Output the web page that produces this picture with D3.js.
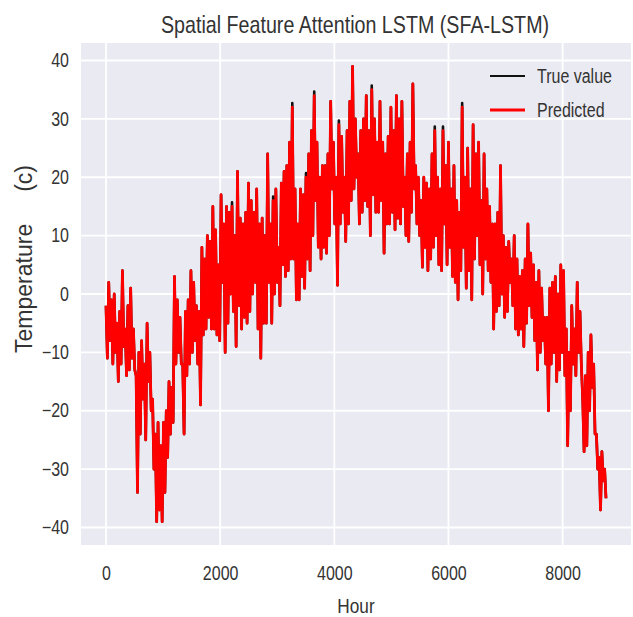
<!DOCTYPE html>
<html lang="en">
    <head>
        <meta charset="utf-8">
        <title>SFA-LSTM</title>
        <script type="text/javascript" src="https://cdn.jsdelivr.net/npm/d3@7"></script>
        <style>
            body { margin: 0; background: #fff; }
        </style>
    </head>
    <body>
        <script type="text/javascript">
        // temperature swings: for every 48-hour block,
        // the high (at the start of the block) and the low (24 h later)
        var step = 48;
        var highs = [
            -2, 2, -1, 0, -5, -3, 4, -6, -2, 1,
            -6, -14, -10, -8, -12, -5, -10, -18, -24, -22,
            -26, -22, -20, -15, -16, 3, -1, -4, -12, -3,
            -1, 4, 2, -2, -3, 8, 6, 10, 9, 15,
            11, 5, 17, 12, 15, 14, 15, 10, 21, 13,
            12, 14, 19, 16, 14, 18, 12, 13, 10, 24,
            12, 16, 18, 8, 19, 21, 22, 26, 32, 18,
            12, 18, 17, 20, 24, 28, 34, 26, 20, 22,
            22, 24, 33, 26, 20, 29, 27, 20, 28, 33,
            39, 30, 24, 28, 30, 34, 28, 35, 30, 26,
            33, 26, 24, 27, 32, 28, 34, 30, 33, 20,
            24, 26, 36, 22, 20, 16, 20, 19, 18, 24,
            28, 20, 18, 28, 22, 26, 18, 22, 16, 14,
            32, 20, 25, 18, 29, 24, 26, 16, 24, 18,
            15, 12, 12, 14, 22, 10, 8, 9, 6, 10,
            6, 3, 4, 6, 12, 7, 5, 2, 4, 1,
            -4, -4, 1, 2, 3, 0, 5, 4, -6, -10,
            -2, -6, 2, -3, -18, -14, -10, -7, -12, -24,
            -28, -27, -30
        ];
        var lows = [
            -11, -8, -12, -10, -15, -12, -9, -14, -13, -11,
            -13, -34, -24, -18, -25, -15, -20, -30, -39, -37,
            -39, -34, -28, -24, -22, -12, -10, -12, -24, -14,
            -12, -10, -8, -12, -19, -7, -6, -4, -6, -6,
            -7, -8, 2, -10, -5, 0, -3, -9, -2, -6,
            -4, -5, -3, 0, 2, -6, -11, -5, -5, 2,
            -5, 0, 2, -2, 5, 3, 4, 6, 6, -1,
            -1, 3, 1, 6, 4, 10, 16, 8, 6, 8,
            7, 10, 18, 12, 1.5, 12, 14, 9, 12, 16,
            18, 20, 12, 14, 16, 15, 10, 17, 14, 14,
            16, 7, 12, 12, 14, 11, 13, 12, 15, 10,
            9, 14, 18, 12, 10, 4.6, 8, 4, 6, 8,
            10, 5, 4, 12, 5, 8, 3, 2, -1, 4,
            8, 1, 4, -1, 6, 10, 5, 0, 6, 4,
            2, -6, -3, -2, 0, -4, -3, 2, -2, -6,
            -7, -6, -9, -5, -2, -4, -8, -13, -10, -8,
            -12, -20, -12, -10, -15, -13, -10, -14, -26, -20,
            -12, -14, -10, -12, -27, -26, -20, -16, -24, -30,
            -37, -32, -35
        ];
        // highs where the true value pokes out above the prediction: [block, value]
        var truePeaks = [[46, 15.7], [61, 16.7], [68, 32.7], [73, 20.7], [76, 34.7],
                         [85, 29.7], [97, 35.7], [120, 28.7], [123, 28.7], [130, 32.7]];
        var yTicks = [-40, -30, -20, -10, 0, 10, 20, 30, 40];
        var xTicks = [0, 2000, 4000, 6000, 8000];

        var peakMap = new Map(truePeaks);
        var predicted = [], trueValue = [];
        highs.forEach(function(hi, i) {
            predicted.push({hour: i * step, temp: hi});
            predicted.push({hour: i * step + step / 2, temp: lows[i]});
            trueValue.push({hour: i * step, temp: peakMap.has(i) ? peakMap.get(i) : hi});
            trueValue.push({hour: i * step + step / 2, temp: lows[i]});
        });

        var w = 633, h = 617;
        var padL = 81, padR = 631, padT = 43, padB = 545;
        var font = "'Liberation Sans', Arial, sans-serif";
        var squeeze = 0.82;   // the original uses a condensed face
        var ink = "#333";

        var lastHour = d3.max(predicted, function(d) { return d.hour; });
        var xScale = d3.scaleLinear()
                    .domain([-0.05 * lastHour, lastHour * 1.05])
                    .range([padL, padR]);
        var yScale = d3.scaleLinear()
                    .domain([-43, 43])
                    .range([padB, padT]);

        var svg = d3.select("body")
                    .append("svg")
                    .attr("width", w)
                    .attr("height", h);

        svg.append("rect")
            .attr("x", padL)
            .attr("y", padT)
            .attr("width", padR - padL)
            .attr("height", padB - padT)
            .attr("fill", "#EAEAF2");

        var grid = svg.append("g").attr("stroke", "#fff").attr("stroke-width", 1.8);
        grid.selectAll(".gx")
            .data(xTicks)
            .enter()
            .append("line")
            .attr("x1", function(d) { return xScale(d); })
            .attr("x2", function(d) { return xScale(d); })
            .attr("y1", padT)
            .attr("y2", padB);
        grid.selectAll(".gy")
            .data(yTicks)
            .enter()
            .append("line")
            .attr("y1", function(d) { return yScale(d); })
            .attr("y2", function(d) { return yScale(d); })
            .attr("x1", padL)
            .attr("x2", padR);

        var line = d3.line()
                    .x(function(d) { return xScale(d.hour); })
                    .y(function(d) { return yScale(d.temp); });

        svg.append("path")
            .datum(trueValue)
            .attr("d", line)
            .attr("fill", "none")
            .attr("stroke", "#111")
            .attr("stroke-width", 2.6)
            .attr("stroke-linejoin", "round");

        svg.append("path")
            .datum(predicted)
            .attr("d", line)
            .attr("fill", "none")
            .attr("stroke", "#ff0000")
            .attr("stroke-width", 2.8)
            .attr("stroke-linejoin", "round");

        // axes: seaborn look, no tick marks, no domain line
        var xAxis = svg.append("g")
                    .attr("transform", "translate(0," + padB + ")")
                    .call(d3.axisBottom(xScale).tickValues(xTicks).tickSize(0).tickPadding(21).tickFormat(d3.format("d")));
        var yAxis = svg.append("g")
                    .attr("transform", "translate(" + padL + ",0)")
                    .call(d3.axisLeft(yScale).tickValues(yTicks).tickSize(0).tickPadding(12).tickFormat(function(d) { return d < 0 ? "\u2212" + (-d) : d; }));
        [xAxis, yAxis].forEach(function(a) {
            a.select(".domain").remove();
            a.selectAll("text")
                .attr("font-family", font)
                .attr("font-size", "19.5px")
                .attr("fill", ink)
                .attr("transform", "scale(" + squeeze + ",1)");
        });
        yAxis.selectAll("text").attr("x", -12 / squeeze);

        function label(x, y, size, txt) {
            return svg.append("text")
                .attr("transform", "translate(" + x + "," + y + ") scale(" + squeeze + ",1)")
                .attr("text-anchor", "middle")
                .attr("font-family", font)
                .attr("font-size", size)
                .attr("fill", ink)
                .text(txt);
        }
        label(355, 33, "24px", "Spatial Feature Attention LSTM (SFA-LSTM)");
        label(356, 613, "21px", "Hour");

        svg.append("text")
            .attr("transform", "translate(32,259) rotate(-90)")
            .attr("text-anchor", "middle")
            .attr("font-family", font)
            .attr("font-size", "23px")
            .attr("fill", ink)
            .style("white-space", "pre")
            .text("Temperature     (c)");

        // legend
        var legend = [{name: "True value", color: "#111", width: 2.2},
                      {name: "Predicted", color: "#ff0000", width: 3.2}];
        var lg = svg.selectAll(".legend")
                    .data(legend)
                    .enter()
                    .append("g")
                    .attr("transform", function(d, i) { return "translate(490," + (76 + i * 34) + ")"; });
        lg.append("line")
            .attr("x1", 0)
            .attr("x2", 35)
            .attr("stroke", function(d) { return d.color; })
            .attr("stroke-width", function(d) { return d.width; });
        lg.append("text")
            .attr("transform", "translate(47,0) scale(" + squeeze + ",1)")
            .attr("dy", "0.35em")
            .attr("font-family", font)
            .attr("font-size", "19.5px")
            .attr("fill", ink)
            .text(function(d) { return d.name; });
        </script>
    </body>
</html>
